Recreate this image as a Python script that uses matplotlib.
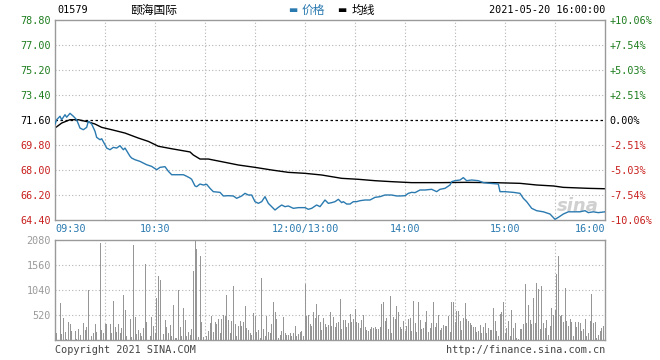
import matplotlib
matplotlib.use("Agg")
import matplotlib.pyplot as plt
import numpy as np

# intraday price (minute index from 09:30, lunch break removed)
price_min = [0, 1, 3, 4, 6, 7, 9, 11, 13, 15, 17, 19, 20, 22, 24, 25, 27, 28, 30, 31,
             33, 35, 37, 39, 41, 42, 45, 46, 48, 51, 55, 58, 61, 63, 66, 68, 70, 73, 77, 79,
             81, 82, 84, 85, 87, 89, 91, 93, 95, 99, 101, 104, 107, 109, 112, 114, 116, 118, 120, 122,
             124, 126, 128, 130, 132, 134, 136, 138, 140, 143, 146, 150, 152, 154, 157, 159, 162, 164, 166, 168,
             170, 172, 173, 175, 177, 179, 181, 183, 186, 189, 192, 195, 198, 202, 205, 207, 210, 212, 214, 216,
             219, 222, 226, 229, 231, 234, 237, 238, 240, 243, 245, 247, 250, 254, 257, 261, 266, 267, 270, 275,
             279, 281, 283, 286, 289, 293, 297, 300, 302, 305, 308, 311, 315, 318, 320, 323, 326, 330]
price = [71.31, 71.62, 71.87, 71.62, 71.98, 71.80, 72.08, 71.87, 71.62, 71.02, 70.90, 71.07, 71.51, 71.31, 70.79, 70.35, 70.18, 70.25, 69.82, 69.58,
         69.46, 69.63, 69.58, 69.75, 69.46, 69.58, 68.99, 68.86, 68.74, 68.62, 68.38, 68.26, 68.02, 68.19, 68.24, 67.91, 67.66, 67.66, 67.66, 67.55,
         67.42, 67.33, 66.85, 66.80, 66.99, 66.92, 66.97, 66.68, 66.44, 66.39, 66.13, 66.15, 66.13, 65.96, 66.13, 66.32, 66.20, 66.20, 65.72, 65.60,
         65.72, 66.08, 65.60, 65.36, 65.12, 65.31, 65.48, 65.36, 65.41, 65.24, 65.29, 65.29, 65.17, 65.24, 65.48, 65.36, 65.84, 65.60, 65.65, 65.72,
         65.89, 65.65, 65.72, 65.55, 65.55, 65.72, 65.72, 65.79, 65.84, 65.84, 66.03, 66.08, 66.20, 66.20, 66.13, 66.13, 66.15, 66.32, 66.39, 66.37,
         66.56, 66.56, 66.61, 66.44, 66.61, 66.68, 66.92, 67.16, 67.23, 67.28, 67.45, 67.23, 67.28, 67.23, 67.09, 67.04, 66.99, 66.44, 66.44, 66.39,
         66.32, 65.96, 65.72, 65.24, 65.07, 64.99, 64.83, 64.45, 64.59, 64.83, 64.99, 64.99, 64.99, 65.07, 64.93, 64.99, 64.93, 64.99]

avg_min = [0, 4, 9, 14, 20, 24, 28, 34, 42, 50, 56, 62, 70, 81, 83, 87, 92, 100, 110, 120,
           130, 140, 150, 160, 172, 182, 192, 202, 214, 232, 246, 263, 279, 289, 299, 305, 320, 330]
avg_price = [71.02, 71.38, 71.62, 71.62, 71.46, 71.31, 71.07, 70.90, 70.66, 70.30, 70.06, 69.71, 69.53, 69.30, 69.08, 68.79, 68.79, 68.60, 68.36, 68.19,
             68.00, 67.83, 67.76, 67.64, 67.40, 67.33, 67.23, 67.16, 67.09, 67.09, 67.11, 67.09, 67.04, 66.92, 66.85, 66.75, 66.68, 66.65]

# per-minute volume, minutes 0..330
volume = [0, 152, 0, 776, 118, 457, 166, 21, 374, 333,
          187, 0, 187, 28, 236, 111, 0, 347, 208, 277,
          1040, 0, 83, 139, 333, 166, 0, 2024, 208, 152,
          326, 326, 0, 340, 152, 811, 277, 160, 340, 146,
          250, 936, 624, 83, 0, 430, 69, 1976, 478, 118,
          208, 152, 83, 257, 1574, 374, 0, 83, 478, 291,
          152, 881, 1331, 1248, 0, 132, 416, 277, 139, 305,
          83, 728, 49, 42, 1040, 277, 83, 673, 416, 83,
          166, 104, 236, 1435, 2059, 1886, 69, 1747, 374, 69,
          0, 83, 187, 361, 499, 166, 374, 326, 430, 139,
          430, 513, 499, 936, 416, 152, 395, 1123, 326, 83,
          291, 395, 291, 374, 707, 250, 208, 139, 111, 555,
          499, 166, 201, 49, 1297, 236, 83, 499, 166, 152,
          326, 790, 583, 430, 42, 111, 187, 485, 139, 97,
          97, 139, 83, 139, 291, 83, 118, 166, 187, 83,
          1158, 499, 513, 326, 291, 583, 465, 742, 513, 374,
          208, 465, 326, 277, 305, 583, 291, 478, 277, 347,
          374, 860, 236, 416, 416, 277, 347, 541, 374, 444,
          652, 374, 347, 257, 416, 513, 277, 208, 187, 236,
          277, 257, 277, 236, 222, 277, 742, 790, 395, 465,
          236, 915, 152, 478, 430, 707, 583, 277, 236, 395,
          187, 291, 444, 465, 187, 811, 347, 166, 790, 416,
          236, 257, 374, 603, 166, 257, 347, 790, 277, 361,
          520, 208, 257, 305, 291, 291, 499, 166, 790, 790,
          374, 603, 603, 395, 208, 465, 763, 430, 395, 361,
          305, 277, 277, 166, 187, 305, 152, 277, 347, 152,
          257, 208, 208, 673, 395, 187, 83, 534, 583, 790,
          139, 257, 395, 83, 624, 257, 347, 49, 14, 236,
          236, 326, 1158, 347, 728, 416, 326, 881, 347, 1192,
          1054, 236, 1123, 347, 257, 416, 111, 291, 673, 513,
          624, 1366, 1747, 499, 513, 374, 1088, 395, 291, 444,
          374, 83, 374, 277, 374, 361, 187, 236, 430, 83,
          152, 395, 950, 347, 374, 49, 111, 187, 257, 291,
          277]

prev_close = 71.60
price_ticks = [64.40, 66.20, 68.00, 69.80, 71.60, 73.40, 75.20, 77.00, 78.80]
vol_ticks = [520, 1040, 1560, 2080]
time_ticks = [0, 60, 150, 210, 270, 330]
time_labels = ["09:30", "10:30", "12:00/13:00", "14:00", "15:00", "16:00"]

MONO = "DejaVu Sans Mono"
CJK = ["Noto Sans CJK SC", "DejaVu Sans"]
BLUE = "#2a7ab0"
GREEN = "#1e7d1e"
RED = "#c8201e"
FRAME = "#9a9a9a"
GRID = "#b4b4b4"

fig = plt.figure(figsize=(6.6, 3.6), dpi=100)
ax = fig.add_axes([55 / 660, 140 / 360, 550 / 660, 200 / 360])
vax = fig.add_axes([55 / 660, 20 / 360, 550 / 660, 100 / 360])

for a in (ax, vax):
    for s in a.spines.values():
        s.set_color(FRAME)
        s.set_linewidth(1.0)
    a.set_xlim(0, 330)
    a.tick_params(length=0)
    for m in range(30, 330, 30):
        a.axvline(m, color=GRID, linestyle=(0, (1, 2)), linewidth=0.8, zorder=0)

# price panel
ax.set_ylim(price_ticks[0], price_ticks[-1])
for p in price_ticks[1:-1]:
    if p == prev_close:
        ax.axhline(p, color="black", linestyle=(0, (2, 2)), linewidth=0.9, zorder=1)
    else:
        ax.axhline(p, color=GRID, linestyle=(0, (1, 2)), linewidth=0.8, zorder=0)
ax.plot(price_min, price, color=BLUE, linewidth=1.0, zorder=3)
ax.plot(avg_min, avg_price, color="black", linewidth=1.0, zorder=2)

ax.set_yticks(price_ticks)
ax.set_yticklabels([f"{p:.2f}" for p in price_ticks], fontfamily=MONO, fontsize=7.3)
ax.tick_params(axis="y", pad=3)
for lab, p in zip(ax.get_yticklabels(), price_ticks):
    lab.set_color(GREEN if p > prev_close else RED if p < prev_close else "black")

rax = ax.twinx()
rax.set_ylim(price_ticks[0], price_ticks[-1])
rax.set_yticks(price_ticks)
pct = [(p - prev_close) / prev_close * 100 for p in price_ticks]
rax.set_yticklabels([f"{v:+.2f}%" if abs(v) > 0.001 else "0.00%" for v in pct],
                    fontfamily=MONO, fontsize=7.3)
rax.tick_params(length=0, pad=3)
for s in rax.spines.values():
    s.set_visible(False)
for lab, v in zip(rax.get_yticklabels(), pct):
    lab.set_color(GREEN if v > 0.001 else RED if v < -0.001 else "black")

ax.set_xticks(time_ticks)
ax.set_xticklabels(time_labels, fontfamily=MONO, fontsize=7.3, color=BLUE)
ax.tick_params(axis="x", pad=3)
xl = ax.get_xticklabels()
xl[0].set_ha("left")
xl[-1].set_ha("right")

ax.text(0.95, 0.07, "sina", transform=ax.transAxes, ha="center", va="center",
        fontsize=13, fontweight="bold", fontstyle="italic", color="#d0d0d0", zorder=1)

# volume panel
vax.set_ylim(0, 2080)
for v in vol_ticks[:-1]:
    vax.axhline(v, color=GRID, linestyle=(0, (1, 2)), linewidth=0.8, zorder=0)
vax.bar(np.arange(len(volume)), volume, width=0.6, color="#969696", zorder=2)
vax.set_yticks(vol_ticks)
vax.set_yticklabels([str(v) for v in vol_ticks], fontfamily=MONO, fontsize=7.3, color="#9a9a9a")
vax.tick_params(axis="y", pad=3)
vax.set_xticks([])

# header and footer
fig.text(57 / 660, 1 - 10 / 360, "01579", fontfamily=MONO, fontsize=7.3, va="center")
fig.text(130 / 660, 1 - 10 / 360, "颐海国际", fontfamily=CJK, fontsize=8.5, va="center")
fig.text(288 / 660, 1 - 10 / 360, "▬", fontfamily="DejaVu Sans", fontsize=7, color=BLUE, va="center")
fig.text(302 / 660, 1 - 10 / 360, "价格", fontfamily=CJK, fontsize=8.5, color=BLUE, va="center")
fig.text(337 / 660, 1 - 10 / 360, "▬", fontfamily="DejaVu Sans", fontsize=7, color="black", va="center")
fig.text(352 / 660, 1 - 10 / 360, "均线", fontfamily=CJK, fontsize=8.5, color="black", va="center")
fig.text(605 / 660, 1 - 10 / 360, "2021-05-20 16:00:00", fontfamily=MONO, fontsize=7.3,
         ha="right", va="center")
fig.text(55 / 660, 1 - 350 / 360, "Copyright 2021 SINA.COM", fontfamily=MONO, fontsize=7.3,
         color="#444444", va="center")
fig.text(605 / 660, 1 - 350 / 360, "http://finance.sina.com.cn", fontfamily=MONO, fontsize=7.3,
         color="#444444", ha="right", va="center")

fig.savefig("out.png", dpi=100)
plt.close(fig)
